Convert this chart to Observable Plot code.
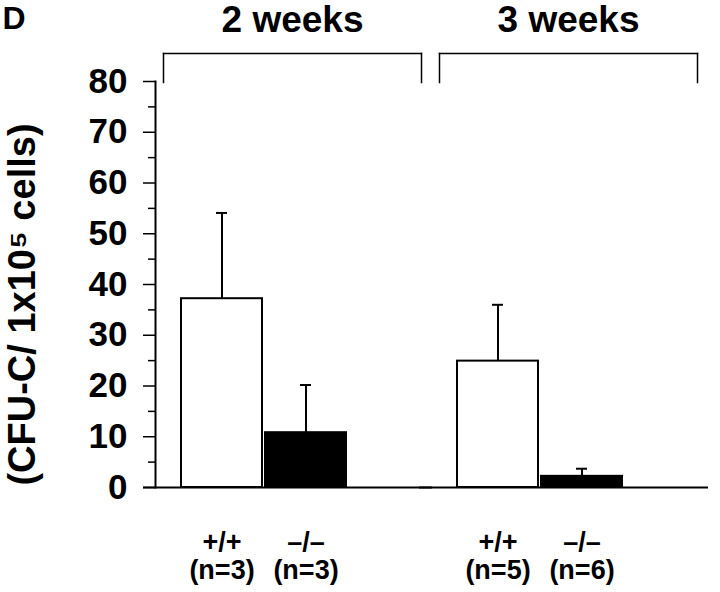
<!DOCTYPE html>
<html>
<head>
<meta charset="utf-8">
<script src="https://cdn.jsdelivr.net/npm/d3@7"></script>
<script src="https://cdn.jsdelivr.net/npm/@observablehq/plot@0.6"></script>
<style>
  html, body { margin: 0; padding: 0; background: #fff; }
  #chart { width: 720px; height: 592px; }
</style>
</head>
<body>
<div id="chart"></div>
<script>
// ---- data ----
const weeks = ["2 weeks", "3 weeks"];
const genotypes = ["+/+", "–/–"];
const means = [37.2, 10.8, 24.9, 2.2];
const errors = [16.9, 9.4, 11.1, 1.5];
const counts = [3, 3, 5, 6];
const majorTicks = [0, 10, 20, 30, 40, 50, 60, 70, 80];
const minorTicks = [5, 15, 25, 35, 45, 55, 65, 75];
const yTitle = "(CFU-C/ 1x10⁵ cells)";
const panelLabel = "D";

const rows = means.map((m, i) => ({
  week: weeks[Math.floor(i / 2)],
  genotype: genotypes[i % 2],
  mean: m,
  err: errors[i],
  n: counts[i]
}));

const font = "'Liberation Sans', Arial, Helvetica, sans-serif";

const chart = Plot.plot({
  width: 720,
  height: 592,
  marginLeft: 155,
  marginRight: 15,
  marginTop: 81,
  marginBottom: 105,
  style: {fontFamily: font, fontWeight: "bold", color: "black", background: "white", overflow: "visible"},
  fx: {domain: weeks, paddingInner: 2 / 276, paddingOuter: 0, axis: null},
  x: {domain: genotypes, paddingInner: 0.03, paddingOuter: 0.636, align: 0.242, axis: null},
  y: {domain: [0, 80], axis: null},
  color: {domain: genotypes, range: ["white", "black"]},
  marks: [
    // y axis line (left facet only)
    Plot.frame({anchor: "left", facetAnchor: "left", strokeWidth: 2, stroke: "black"}),
    Plot.axisY({ticks: majorTicks, tickSize: 12, tickPadding: 16, tickFormat: d => String(d),
      fontSize: 35, fontWeight: "bold", strokeWidth: 1.5, label: null}),
    Plot.axisY({ticks: minorTicks, tickSize: 7, text: null, strokeWidth: 1.5, label: null}),
    // group headers
    Plot.axisFx({anchor: "top", tickSize: 0, tickPadding: 50, fontSize: 37, fontWeight: "bold", label: null}),
    // brackets
    Plot.frame({anchor: "top", dy: -28, insetLeft: 8, insetRight: 8, strokeWidth: 1.5, stroke: "black"}),
    Plot.frame({anchor: "left", dy: -28, insetLeft: 8, insetBottom: 377, strokeWidth: 1.5, stroke: "black"}),
    Plot.frame({anchor: "right", dy: -28, insetRight: 8, insetBottom: 377, strokeWidth: 1.5, stroke: "black"}),
    // error bars
    Plot.ruleX(rows, {fx: "week", x: "genotype", y1: "mean", y2: d => d.mean + d.err, strokeWidth: 2, stroke: "black"}),
    Plot.tickY(rows, {fx: "week", x: "genotype", y: d => d.mean + d.err, insetLeft: 35, insetRight: 35, strokeWidth: 2, stroke: "black"}),
    // bars
    Plot.barY(rows, {fx: "week", x: "genotype", y: "mean", fill: "genotype", stroke: "black", strokeWidth: 2}),
    // baseline
    Plot.ruleY([0], {insetLeft: -12, insetRight: -3, strokeWidth: 2, stroke: "black"}),
    // bottom labels
    Plot.text(rows, {fx: "week", x: "genotype", text: "genotype", frameAnchor: "bottom", lineAnchor: "bottom",
      dy: 63, fontSize: 27, fontWeight: "bold"}),
    Plot.text(rows, {fx: "week", x: "genotype", text: d => `(n=${d.n})`, frameAnchor: "bottom", lineAnchor: "bottom",
      dy: 91, fontSize: 27, fontWeight: "bold"}),
    // y title
    Plot.text([yTitle], {facetAnchor: "left", frameAnchor: "left", textAnchor: "middle", lineAnchor: "middle",
      rotate: -90, dx: -133, dy: 20, fontSize: 38, fontWeight: "bold"}),
    // panel label
    Plot.text([panelLabel], {facetAnchor: "left", frameAnchor: "top-left", textAnchor: "start", lineAnchor: "top",
      dx: -153, dy: -75, fontSize: 32, fontWeight: "bold"})
  ]
});

document.getElementById("chart").appendChild(chart);
</script>
</body>
</html>
